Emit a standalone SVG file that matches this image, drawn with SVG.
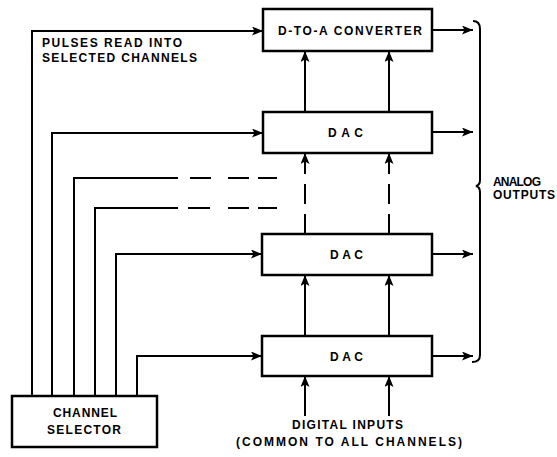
<svg xmlns="http://www.w3.org/2000/svg" width="557" height="457" viewBox="0 0 557 457">
<style>
.box{fill:#fff;stroke:#000;stroke-width:2.5}
.ln{fill:none;stroke:#000;stroke-width:2}
.dash{fill:none;stroke:#000;stroke-width:2}
.vd{fill:none;stroke:#000;stroke-width:2;stroke-dasharray:20 10}
.t{font-family:"Liberation Sans",Arial,sans-serif;font-weight:bold;font-size:12px;fill:#000}
</style>
<defs>
<marker id="ah" markerUnits="userSpaceOnUse" markerWidth="12" markerHeight="10" refX="11" refY="4.5" orient="auto">
<path d="M0,0 L11,4.5 L0,9 L2.5,4.5 z" fill="#000"/>
</marker>
</defs>
<rect width="557" height="457" fill="#fff"/>
<g id="connectors">
<path class="ln" d="M32,396 V31 H263" marker-end="url(#ah)"/>
<path class="ln" d="M52,396 V133 H263" marker-end="url(#ah)"/>
<path class="ln" d="M74,396 V178 H178"/>
<path class="dash" d="M190,178 H211 M228,178 H249 M258,178 H277"/>
<path class="ln" d="M95,396 V208 H178"/>
<path class="dash" d="M188,208 H210 M228,208 H249 M258,208 H277"/>
<path class="ln" d="M116,396 V254 H262" marker-end="url(#ah)"/>
<path class="ln" d="M137,396 V356 H262" marker-end="url(#ah)"/>
<path class="ln" d="M305,112 V51" marker-end="url(#ah)"/>
<path class="ln" d="M389,112 V51" marker-end="url(#ah)"/>
<path class="vd" d="M305,234 V153" marker-end="url(#ah)"/>
<path class="vd" d="M389,234 V153" marker-end="url(#ah)"/>
<path class="ln" d="M305,336 V275" marker-end="url(#ah)"/>
<path class="ln" d="M389,336 V275" marker-end="url(#ah)"/>
<path class="ln" d="M305,416 V376" marker-end="url(#ah)"/>
<path class="ln" d="M389,416 V376" marker-end="url(#ah)"/>
<path class="ln" d="M432,30 H473" marker-end="url(#ah)"/>
<path class="ln" d="M432,132 H473" marker-end="url(#ah)"/>
<path class="ln" d="M432,254 H473" marker-end="url(#ah)"/>
<path class="ln" d="M432,356 H473" marker-end="url(#ah)"/>
<path class="ln" d="M473,21 Q480,21 480,29 V180 Q480,185 476,186 Q480,187 480,192 V355 Q480,362 472,362"/>
</g>
<g id="dta">
<rect class="box" x="263" y="9" width="169" height="42"/>
<text class="t" x="278" y="35" textLength="144" lengthAdjust="spacing">D-TO-A CONVERTER</text>
</g>
<g id="dac1">
<rect class="box" x="263" y="112" width="169" height="41"/>
<text class="t" x="328" y="137" textLength="35" lengthAdjust="spacing">DAC</text>
</g>
<g id="dac2">
<rect class="box" x="262" y="234" width="170" height="41"/>
<text class="t" x="330" y="259" textLength="33" lengthAdjust="spacing">DAC</text>
</g>
<g id="dac3">
<rect class="box" x="262" y="336" width="170" height="40"/>
<text class="t" x="330" y="361" textLength="33" lengthAdjust="spacing">DAC</text>
</g>
<g id="selector">
<rect class="box" x="12" y="396" width="145" height="51"/>
<text class="t" x="53" y="417" textLength="64" lengthAdjust="spacing">CHANNEL</text>
<text class="t" x="47" y="434" textLength="74" lengthAdjust="spacing">SELECTOR</text>
</g>
<g id="labels">
<text class="t" x="42" y="47" textLength="140" lengthAdjust="spacing">PULSES READ INTO</text>
<text class="t" x="42" y="62" textLength="155" lengthAdjust="spacing">SELECTED CHANNELS</text>
<text class="t" x="493" y="186" textLength="48" lengthAdjust="spacing">ANALOG</text>
<text class="t" x="493" y="199" textLength="62" lengthAdjust="spacing">OUTPUTS</text>
<text class="t" x="292" y="429" textLength="111" lengthAdjust="spacing">DIGITAL INPUTS</text>
<text class="t" x="236" y="446" textLength="226" lengthAdjust="spacing">(COMMON TO ALL CHANNELS)</text>
</g>
</svg>
